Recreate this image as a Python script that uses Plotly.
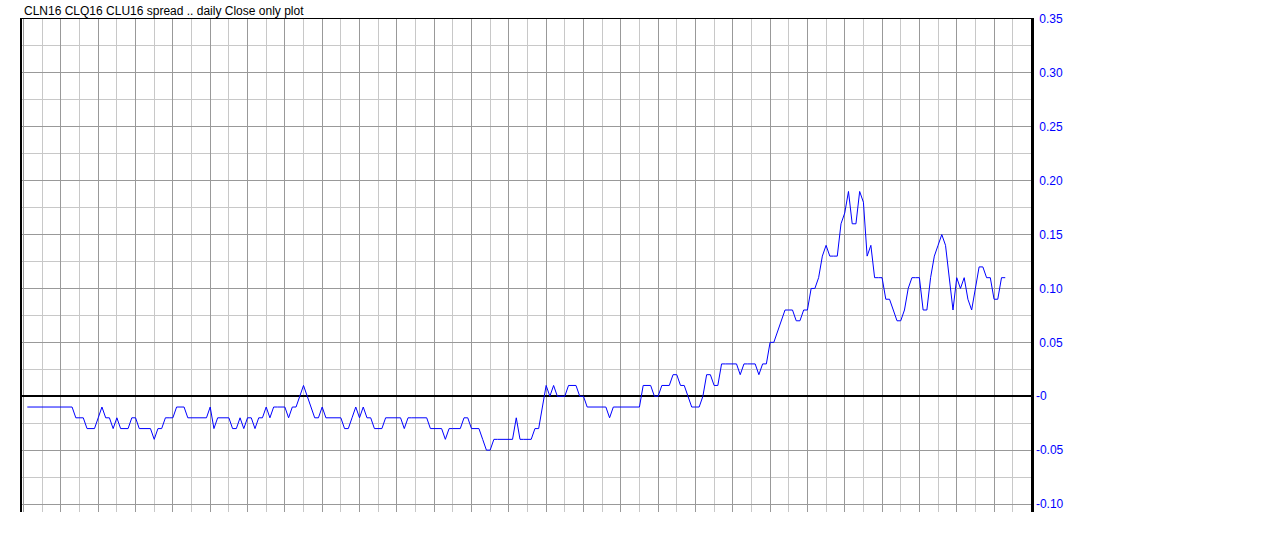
import plotly.graph_objects as go

title_text = "CLN16 CLQ16 CLU16 spread .. daily Close only plot"

spread_close = [
    -0.01, -0.01, -0.01, -0.01, -0.01, -0.01, -0.01, -0.01, -0.01, -0.01,
    -0.01, -0.01, -0.01, -0.02, -0.02, -0.02, -0.03, -0.03, -0.03, -0.02,
    -0.01, -0.02, -0.02, -0.03, -0.02, -0.03, -0.03, -0.03, -0.02, -0.02,
    -0.03, -0.03, -0.03, -0.03, -0.04, -0.03, -0.03, -0.02, -0.02, -0.02,
    -0.01, -0.01, -0.01, -0.02, -0.02, -0.02, -0.02, -0.02, -0.02, -0.01,
    -0.03, -0.02, -0.02, -0.02, -0.02, -0.03, -0.03, -0.02, -0.03, -0.02,
    -0.02, -0.03, -0.02, -0.02, -0.01, -0.02, -0.01, -0.01, -0.01, -0.01,
    -0.02, -0.01, -0.01, 0.00, 0.01, 0.00, -0.01, -0.02, -0.02, -0.01,
    -0.02, -0.02, -0.02, -0.02, -0.02, -0.03, -0.03, -0.02, -0.01, -0.02,
    -0.01, -0.02, -0.02, -0.03, -0.03, -0.03, -0.02, -0.02, -0.02, -0.02,
    -0.02, -0.03, -0.02, -0.02, -0.02, -0.02, -0.02, -0.02, -0.03, -0.03,
    -0.03, -0.03, -0.04, -0.03, -0.03, -0.03, -0.03, -0.02, -0.02, -0.03,
    -0.03, -0.03, -0.04, -0.05, -0.05, -0.04, -0.04, -0.04, -0.04, -0.04,
    -0.04, -0.02, -0.04, -0.04, -0.04, -0.04, -0.03, -0.03, -0.01, 0.01,
    0.00, 0.01, 0.00, 0.00, 0.00, 0.01, 0.01, 0.01, 0.00, 0.00,
    -0.01, -0.01, -0.01, -0.01, -0.01, -0.01, -0.02, -0.01, -0.01, -0.01,
    -0.01, -0.01, -0.01, -0.01, -0.01, 0.01, 0.01, 0.01, 0.00, 0.00,
    0.01, 0.01, 0.01, 0.02, 0.02, 0.01, 0.01, 0.00, -0.01, -0.01,
    -0.01, 0.00, 0.02, 0.02, 0.01, 0.01, 0.03, 0.03, 0.03, 0.03,
    0.03, 0.02, 0.03, 0.03, 0.03, 0.03, 0.02, 0.03, 0.03, 0.05,
    0.05, 0.06, 0.07, 0.08, 0.08, 0.08, 0.07, 0.07, 0.08, 0.08,
    0.10, 0.10, 0.11, 0.13, 0.14, 0.13, 0.13, 0.13, 0.16, 0.17,
    0.19, 0.16, 0.16, 0.19, 0.18, 0.13, 0.14, 0.11, 0.11, 0.11,
    0.09, 0.09, 0.08, 0.07, 0.07, 0.08, 0.10, 0.11, 0.11, 0.11,
    0.08, 0.08, 0.11, 0.13, 0.14, 0.15, 0.14, 0.11, 0.08, 0.11,
    0.10, 0.11, 0.09, 0.08, 0.10, 0.12, 0.12, 0.11, 0.11, 0.09,
    0.09, 0.11, 0.11,
]
day_index = list(range(len(spread_close)))

y_tick_values = [-0.10, -0.05, 0.0, 0.05, 0.10, 0.15, 0.20, 0.25, 0.30, 0.35]
y_tick_labels = ["-0.10", "-0.05", "-0", "\u00a00.05", "\u00a00.10", "\u00a00.15",
                 "\u00a00.20", "\u00a00.25", "\u00a00.30", "\u00a00.35"]

fig = go.Figure(
    go.Scatter(
        x=day_index,
        y=spread_close,
        mode="lines",
        line=dict(color="#0000ff", width=1),
        hoverinfo="skip",
    )
)

fig.update_layout(
    width=1280,
    height=554,
    margin=dict(l=22, r=249, t=17, b=42),
    paper_bgcolor="white",
    plot_bgcolor="white",
    showlegend=False,
    xaxis=dict(
        range=[-1.42, 268.9],
        side="top",
        showline=True,
        linecolor="black",
        linewidth=1,
        showticklabels=False,
        ticks="",
        tickmode="linear",
        tick0=9,
        dtick=10,
        showgrid=True,
        gridcolor="#999999",
        gridwidth=1,
        zeroline=False,
        minor=dict(tickmode="linear", tick0=4, dtick=10, showgrid=True,
                   gridcolor="#c8c8c8", gridwidth=1),
    ),
    yaxis=dict(
        range=[-0.1074, 0.35],
        side="right",
        showline=True,
        linecolor="black",
        linewidth=2.5,
        mirror=True,
        ticks="",
        tickmode="array",
        tickvals=y_tick_values,
        ticktext=y_tick_labels,
        tickfont=dict(color="#0000ff", size=12, family="Liberation Sans"),
        showgrid=True,
        gridcolor="#999999",
        gridwidth=1,
        minor=dict(tickmode="linear", tick0=0.025, dtick=0.05, showgrid=True,
                   gridcolor="#c8c8c8", gridwidth=1),
        zeroline=True,
        zerolinecolor="black",
        zerolinewidth=2,
    ),
    annotations=[
        dict(
            text=title_text,
            xref="paper",
            yref="paper",
            x=0.0,
            y=1.0162,
            xanchor="left",
            yanchor="middle",
            showarrow=False,
            font=dict(color="black", size=12, family="Liberation Sans"),
        )
    ],
)

fig.write_html(
    "out.html",
    config={"displayModeBar": False, "staticPlot": True},
    post_script="document.body.style.margin='0';document.body.style.overflow='hidden';",
)
